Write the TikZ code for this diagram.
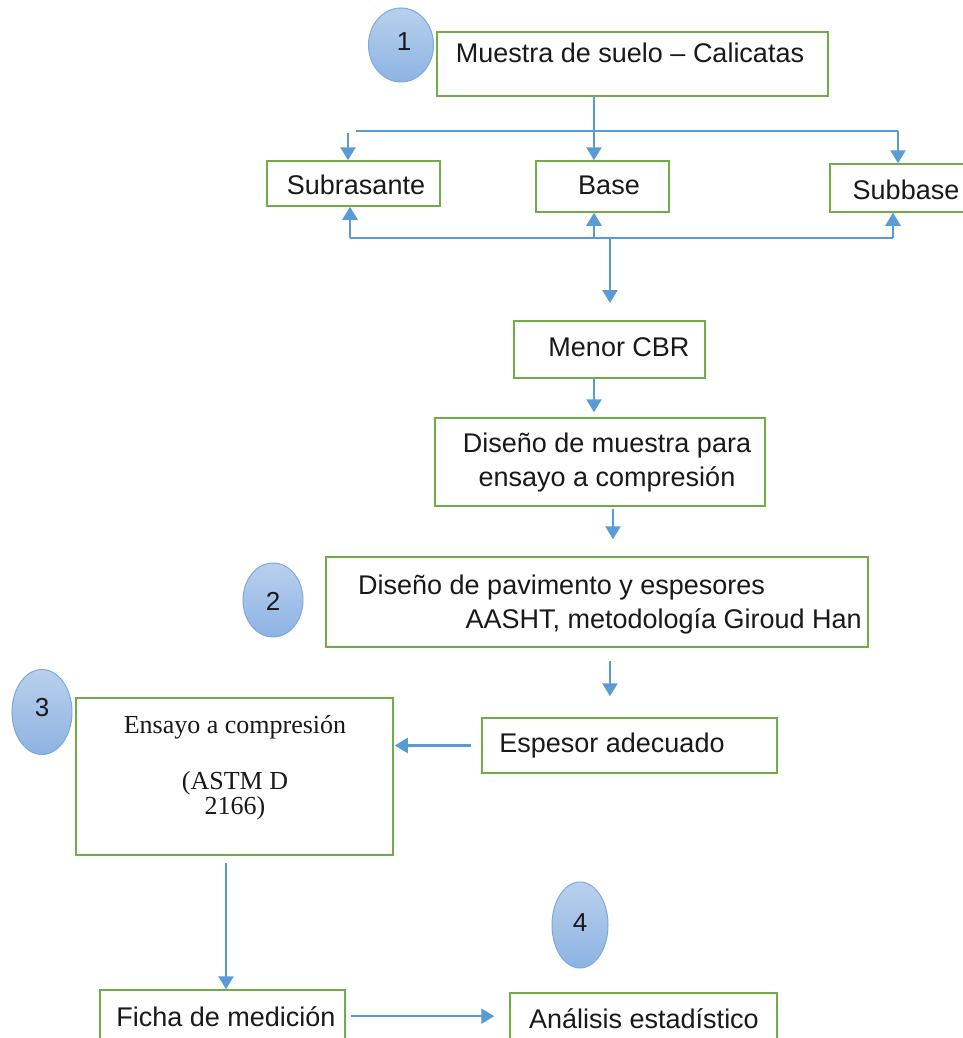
\documentclass[tikz,border=0pt]{standalone}
\usepackage{fontspec}
\setmainfont{Liberation Sans}
\newfontfamily\seriffont{Liberation Serif}
\usetikzlibrary{arrows.meta,shapes.geometric}
\definecolor{boxgreen}{HTML}{70AD47}
\definecolor{arrblue}{HTML}{5B9BD5}
\definecolor{circtop}{HTML}{B9D0ED}
\definecolor{circbot}{HTML}{8DB3E2}
\definecolor{circline}{HTML}{7EA9DB}
\tikzset{
  box/.style={draw=boxgreen, line width=1.5pt, fill=white, inner sep=0pt},
  txt/.style={font=\fontsize{27}{34}\selectfont, inner sep=0pt, anchor=base, text=black!90},
  stxt/.style={font=\seriffont\fontsize{26}{25}\selectfont, inner sep=0pt, anchor=base, text=black!90},
  num/.style={ellipse, draw=circline, line width=1pt, top color=circtop, bottom color=circbot, inner sep=0pt},
  numtxt/.style={font=\fontsize{26}{30}\selectfont, inner sep=0pt, anchor=base, text=black!90},
  arr/.style={draw=arrblue, line width=2.5pt, -{Triangle[width=15pt,length=13pt]}},
  ln/.style={draw=arrblue, line width=2.5pt}
}
\begin{document}
\begin{tikzpicture}[x=1pt,y=-1pt]
\useasboundingbox (0,0) rectangle (963,1038);
\clip (0,0) rectangle (963,1038);
\fill[white] (0,0) rectangle (963,1038);

% circles
\node[num, minimum width=65, minimum height=74] (c1) at (401,45) {};
\node[numtxt] (n1) at (404,51) {1};
\node[num, minimum width=60, minimum height=74] (c2) at (273,600) {};
\node[numtxt] (n2) at (273,610) {2};
\node[num, minimum width=60, minimum height=85] (c3) at (42,712) {};
\node[numtxt] (n3) at (42,716) {3};
\node[num, minimum width=56, minimum height=86] (c4) at (580,925) {};
\node[numtxt] (n4) at (580,931) {4};

% boxes
\node[box, minimum width=391, minimum height=64] (muestra) at (632.5,64) {};
\node[txt] (tmuestra) at (630,63) {Muestra de suelo – Calicatas};

\node[box, minimum width=173, minimum height=45] (subr) at (353.5,183.5) {};
\node[txt] (tsubr) at (356,194) {Subrasante};
\node[box, minimum width=133, minimum height=51] (base) at (602.5,186.5) {};
\node[txt] (tbase) at (609,194) {Base};
\node[box, minimum width=140, minimum height=48] (subb) at (900,188) {};
\node[txt] (tsubb) at (906,199) {Subbase};

\node[box, minimum width=191, minimum height=57] (menor) at (609.5,349.5) {};
\node[txt] (tmenor) at (619,356) {Menor CBR};

\node[box, minimum width=330, minimum height=88] (dmuestra) at (600,462) {};
\node[txt] (tdm1) at (607,452) {Diseño de muestra para};
\node[txt] (tdm2) at (607,486) {ensayo a compresión};

\node[box, minimum width=542, minimum height=90] (dpav) at (597,602) {};
\node[txt, anchor=base west] (tdp1) at (358,594) {Diseño de pavimento y espesores};
\node[txt, anchor=base east] (tdp2) at (862,628) {AASHT, metodología Giroud Han};

\node[box, minimum width=317, minimum height=157] (ensayo) at (234.5,776.5) {};
\node[stxt] (te1) at (235,733) {Ensayo a compresión};
\node[stxt] (te2) at (235,789) {(ASTM D};
\node[stxt] (te3) at (235,814) {2166)};

\node[box, minimum width=295, minimum height=55] (espesor) at (629.5,745.5) {};
\node[txt] (tesp) at (612,752) {Espesor adecuado};

\node[box, minimum width=245, minimum height=60] (ficha) at (222.5,1020) {};
\node[txt] (tficha) at (226,1026) {Ficha de medición};

\node[box, minimum width=267, minimum height=60] (analisis) at (643.5,1023) {};
\node[txt] (tanal) at (644,1028) {Análisis estadístico};

% helper coordinates
\coordinate (xM) at (594,0);
\coordinate (tLs) at (356,131);
\coordinate (tL) at (348,133);
\coordinate (tR) at (898,131);
\coordinate (bL) at (350,238);
\coordinate (bM) at (594,238);
\coordinate (bR) at (893,238);
\coordinate (bD) at (610,238);
\coordinate (bDe) at (610,303);
\coordinate (x613) at (613,0);
\coordinate (x610) at (610,0);
\coordinate (x226) at (226,0);

% top distribution
\draw[arr] (muestra.south -| xM) -- (base.north -| xM);
\draw[ln] (tLs) -- (tR);
\draw[arr] (tL) -- (subr.north -| tL);
\draw[arr] (tR) -- (subb.north -| tR);

% bottom collection
\draw[ln] (bL) -- (bR);
\draw[arr] (bL) -- (subr.south -| bL);
\draw[arr] (bM) -- (base.south -| bM);
\draw[arr] (bR) -- (subb.south -| bR);
\draw[arr] (bD) -- (bDe);

% chain
\draw[arr, shorten >=5pt] (menor.south -| xM) -- (dmuestra.north -| xM);
\draw[arr, shorten <=2pt, shorten >=17pt] (dmuestra.south -| x613) -- (dpav.north -| x613);
\draw[arr, shorten <=13pt, shorten >=21pt] (dpav.south -| x610) -- (espesor.north -| x610);
\draw[arr, shorten <=10pt, shorten >=1pt] (espesor.west) -- (ensayo.east |- espesor.west);
\draw[arr, shorten <=7pt] (ensayo.south -| x226) -- (ficha.north -| x226);
\draw[arr, shorten <=5pt, shorten >=15pt] (ficha.east |- tficha.center) -- (analisis.west |- tficha.center);
\end{tikzpicture}
\end{document}
